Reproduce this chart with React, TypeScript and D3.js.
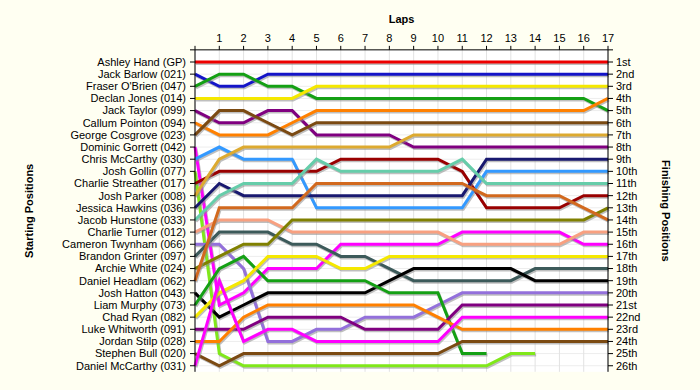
import React from "react";
import * as d3 from "d3";

const drivers = [
  "Ashley Hand (GP)", "Jack Barlow (021)", "Fraser O'Brien (047)", "Declan Jones (014)",
  "Jack Taylor (099)", "Callum Pointon (094)", "George Cosgrove (023)", "Dominic Gorrett (042)",
  "Chris McCarthy (030)", "Josh Gollin (077)", "Charlie Streather (017)", "Josh Parker (008)",
  "Jessica Hawkins (036)", "Jacob Hunstone (033)", "Charlie Turner (012)", "Cameron Twynham (066)",
  "Brandon Grinter (097)", "Archie White (024)", "Daniel Headlam (062)", "Josh Hatton (043)",
  "Liam Murphy (073)", "Chad Ryan (082)", "Luke Whitworth (091)", "Jordan Stilp (028)",
  "Stephen Bull (020)", "Daniel McCarthy (031)",
];

const finishLabels = [
  "1st", "2nd", "3rd", "4th", "5th", "6th", "7th", "8th", "9th", "10th", "11th", "12th", "13th",
  "14th", "15th", "16th", "17th", "18th", "19th", "20th", "21st", "22nd", "23rd", "24th", "25th", "26th",
];

const lapLabels = [1, 2, 3, 4, 5, 6, 7, 8, 9, 10, 11, 12, 13, 14, 15, 16, 17];

// position of each driver at lap 0 (grid) .. lap 17
const positions: number[][] = [
  [1, 1, 1, 1, 1, 1, 1, 1, 1, 1, 1, 1, 1, 1, 1, 1, 1, 1],
  [2, 3, 3, 2, 2, 2, 2, 2, 2, 2, 2, 2, 2, 2, 2, 2, 2, 2],
  [3, 2, 2, 3, 3, 4, 4, 4, 4, 4, 4, 4, 4, 4, 4, 4, 4, 5],
  [4, 4, 4, 4, 4, 3, 3, 3, 3, 3, 3, 3, 3, 3, 3, 3, 3, 3],
  [5, 6, 6, 5, 5, 7, 7, 7, 7, 8, 8, 8, 8, 8, 8, 8, 8, 8],
  [6, 7, 7, 7, 6, 5, 5, 5, 5, 5, 5, 5, 5, 5, 5, 5, 5, 4],
  [7, 5, 5, 6, 7, 6, 6, 6, 6, 6, 6, 6, 6, 6, 6, 6, 6, 6],
  [8, 21, 20, 18, 18, 18, 16, 16, 16, 16, 16, 15, 15, 15, 15, 15, 16, 16],
  [9, 8, 9, 9, 9, 13, 13, 13, 13, 13, 13, 13, 10, 10, 10, 10, 10, 10],
  [10, 25, 26, 26, 26, 26, 26, 26, 26, 26, 26, 26, 26, 25, 25],
  [11, 10, 10, 10, 10, 10, 9, 9, 9, 9, 9, 10, 13, 13, 13, 13, 12, 12],
  [12, 9, 8, 8, 8, 8, 8, 8, 8, 7, 7, 7, 7, 7, 7, 7, 7, 7],
  [13, 11, 12, 12, 12, 12, 12, 12, 12, 12, 12, 12, 9, 9, 9, 9, 9, 9],
  [14, 12, 11, 11, 11, 9, 10, 10, 10, 10, 10, 9, 11, 11, 11, 11, 11, 11],
  [15, 14, 14, 14, 15, 15, 15, 15, 15, 15, 15, 16, 16, 16, 16, 16, 15, 15],
  [16, 16, 18, 24, 24, 23, 23, 22, 22, 22, 21, 20, 20, 20, 20, 20, 20, 20],
  [17, 15, 15, 15, 16, 16, 17, 17, 18, 19, 19, 19, 19, 19, 18, 18, 18, 18],
  [18, 17, 16, 16, 14, 14, 14, 14, 14, 14, 14, 14, 14, 14, 14, 14, 14, 13],
  [19, 13, 13, 13, 13, 11, 11, 11, 11, 11, 11, 11, 12, 12, 12, 12, 13, 14],
  [20, 22, 21, 20, 20, 20, 20, 20, 19, 18, 18, 18, 18, 18, 19, 19, 19, 19],
  [21, 18, 17, 19, 19, 19, 19, 19, 20, 20, 20, 25, 25],
  [22, 20, 19, 17, 17, 17, 18, 18, 17, 17, 17, 17, 17, 17, 17, 17, 17, 17],
  [23, 23, 23, 22, 22, 22, 22, 23, 23, 23, 23, 21, 21, 21, 21, 21, 21, 21],
  [24, 24, 22, 21, 21, 21, 21, 21, 21, 21, 22, 23, 23, 23, 23, 23, 23, 23],
  [25, 26, 25, 25, 25, 25, 25, 25, 25, 25, 25, 24, 24, 24, 24, 24, 24, 24],
  [26, 19, 24, 23, 23, 24, 24, 24, 24, 24, 24, 22, 22, 22, 22, 22, 22, 22],
];

const colors = [
  "#EE0000", "#1414C8", "#14A014", "#F5E800", "#800080", "#FF8000", "#7B4A12", "#FF00FF",
  "#3399FF", "#80E81A", "#990000", "#DDAA30", "#191970", "#66CDAA", "#F8A080", "#9370DB",
  "#3C5A5A", "#808000", "#D2691E", "#000000", "#14A014", "#F5E800", "#800080", "#FF8000",
  "#7B4A12", "#FF00FF",
];

const W = 700;
const H = 390;
const FONT = "'Liberation Sans', Arial, sans-serif";

export default function App() {
  const x = d3.scaleLinear().domain([0, 17]).range([195, 608]);
  const y = d3.scaleLinear().domain([1, 26]).range([62, 365.75]);
  const top = y(0);
  const bottom = y(26.5);
  const line = d3
    .line<number>()
    .x((_, i) => x(i))
    .y((d) => y(d));
  const rows = d3.range(1, 27);
  const lapTicks = d3.range(0, 18);

  return (
    <div style={{ position: "absolute", left: 0, top: 0 }}>
      <svg width={W} height={H} style={{ display: "block", fontFamily: FONT }}>
        <rect x={0} y={0} width={W} height={H} fill="#FFFFF2" />
        <rect x={x(0)} y={top} width={x(17) - x(0)} height={bottom - top} fill="#FFFFFF" />
        {/* grid */}
        {rows.map((r) => (
          <line key={"h" + r} x1={x(0)} x2={x(17)} y1={y(r)} y2={y(r)} stroke="#EDEDED" strokeWidth={1} />
        ))}
        {lapTicks.map((l) => (
          <line key={"v" + l} x1={x(l)} x2={x(l)} y1={top} y2={bottom} stroke="#E2E2E2" strokeWidth={1} />
        ))}
        {/* series */}
        {positions.map((p, i) => (
          <g key={"s" + i}>
            <path d={line(p) || ""} fill="none" stroke="#8a8a8a" strokeOpacity={0.55} strokeWidth={3}
              transform="translate(1,1.5)" strokeLinejoin="miter" />
            <path d={line(p) || ""} fill="none" stroke={colors[i]} strokeWidth={3} strokeLinejoin="miter" />
          </g>
        ))}
        {/* axes */}
        <line x1={x(0)} x2={x(0)} y1={top} y2={bottom} stroke="#000" />
        <line x1={x(17)} x2={x(17)} y1={top} y2={bottom} stroke="#000" />
        <line x1={x(0) - 5} x2={x(17) + 5} y1={top} y2={top} stroke="#000" />
        {lapTicks.map((l) => (
          <line key={"tt" + l} x1={x(l)} x2={x(l)} y1={top - 4} y2={top} stroke="#000" />
        ))}
        {lapLabels.map((l) => (
          <text key={"tl" + l} x={x(l)} y={42} fontSize={11} textAnchor="middle" fill="#000">
            {l}
          </text>
        ))}
        {rows.map((r) => (
          <g key={"yl" + r}>
            <line x1={x(0) - 5} x2={x(0)} y1={y(r)} y2={y(r)} stroke="#000" />
            <line x1={x(17)} x2={x(17) + 5} y1={y(r)} y2={y(r)} stroke="#000" />
            <text x={x(0) - 9} y={y(r)} dy="0.35em" fontSize={11} textAnchor="end" fill="#000">
              {drivers[r - 1]}
            </text>
            <text x={x(17) + 8} y={y(r)} dy="0.35em" fontSize={11} textAnchor="start" fill="#000">
              {finishLabels[r - 1]}
            </text>
          </g>
        ))}
        <text x={(x(0) + x(17)) / 2} y={23} fontSize={11} fontWeight="bold" textAnchor="middle">
          Laps
        </text>
        <text transform={`translate(33,${(top + bottom) / 2}) rotate(-90)`} fontSize={11} fontWeight="bold"
          textAnchor="middle">
          Starting Positions
        </text>
        <text transform={`translate(662,${(top + bottom) / 2}) rotate(90)`} fontSize={11} fontWeight="bold"
          textAnchor="middle">
          Finishing Positions
        </text>
      </svg>
    </div>
  );
}
